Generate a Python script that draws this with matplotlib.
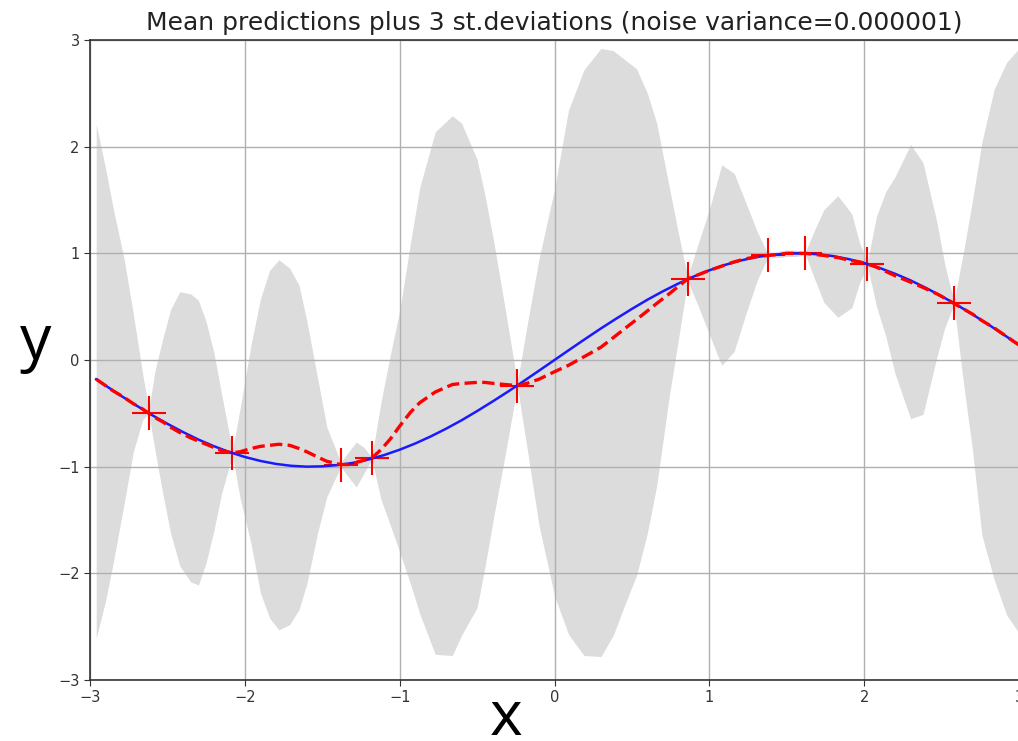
import matplotlib
matplotlib.use("Agg")
import matplotlib.pyplot as plt

# ---- data ----
train_x = [-2.62, -2.08, -1.38, -1.18, -0.24, 0.86, 1.38, 1.62, 2.02, 2.58]
train_y = [-0.50, -0.87, -0.98, -0.92, -0.24, 0.76, 0.98, 1.00, 0.90, 0.53]

true_x = [-2.96, -2.9, -2.8, -2.7, -2.6, -2.5, -2.4, -2.3, -2.2, -2.1, -2.0,
          -1.9, -1.8, -1.7, -1.6, -1.5, -1.4, -1.3, -1.2, -1.1, -1.0,
          -0.9, -0.8, -0.7, -0.6, -0.5, -0.4, -0.3, -0.2, -0.1, 0.0,
          0.1, 0.2, 0.3, 0.4, 0.5, 0.6, 0.7, 0.8, 0.9, 1.0,
          1.1, 1.2, 1.3, 1.4, 1.5, 1.6, 1.7, 1.8, 1.9, 2.0,
          2.1, 2.2, 2.3, 2.4, 2.5, 2.6, 2.7, 2.8, 2.9, 3.0, 3.06]
true_y = [-0.180, -0.239, -0.335, -0.427, -0.516, -0.598, -0.675, -0.746, -0.808,
          -0.863, -0.909, -0.946, -0.974, -0.992, -1.000, -0.997, -0.985, -0.964,
          -0.932, -0.891, -0.841, -0.783, -0.717, -0.644, -0.565, -0.479, -0.389,
          -0.296, -0.199, -0.100, 0.000, 0.100, 0.199, 0.296, 0.389, 0.479, 0.565,
          0.644, 0.717, 0.783, 0.841, 0.891, 0.932, 0.964, 0.985, 0.997, 1.000,
          0.992, 0.974, 0.946, 0.909, 0.863, 0.808, 0.746, 0.675, 0.598, 0.516,
          0.427, 0.335, 0.239, 0.141, 0.080]

test_x = [-2.96, -2.90, -2.85, -2.78, -2.72, -2.66, -2.62, -2.58, -2.53, -2.48,
          -2.42, -2.35, -2.30, -2.25, -2.20, -2.15, -2.08, -2.03, -1.96, -1.90,
          -1.84, -1.78, -1.71, -1.65, -1.60, -1.53, -1.47, -1.38, -1.33, -1.28,
          -1.23, -1.18, -1.12, -1.06, -1.00, -0.93, -0.87, -0.77, -0.66, -0.60,
          -0.50, -0.45, -0.39, -0.32, -0.24, -0.18, -0.10, 0.00, 0.09, 0.19,
          0.30, 0.38, 0.45, 0.53, 0.60, 0.66, 0.74, 0.80, 0.86, 0.93,
          1.00, 1.08, 1.16, 1.24, 1.31, 1.38, 1.45, 1.50, 1.56, 1.62,
          1.68, 1.74, 1.83, 1.92, 1.97, 2.02, 2.08, 2.14, 2.20, 2.30,
          2.38, 2.47, 2.52, 2.58, 2.64, 2.70, 2.76, 2.84, 2.92, 3.00, 3.06]

mean_pred = [-0.18, -0.24, -0.29, -0.35, -0.41, -0.46, -0.50, -0.54, -0.58, -0.63,
             -0.68, -0.73, -0.76, -0.79, -0.82, -0.85, -0.87, -0.86, -0.83, -0.81,
             -0.80, -0.79, -0.80, -0.83, -0.86, -0.91, -0.95, -0.98, -0.98, -0.96,
             -0.94, -0.92, -0.84, -0.74, -0.62, -0.49, -0.40, -0.30, -0.23, -0.22,
             -0.21, -0.21, -0.22, -0.23, -0.24, -0.22, -0.18, -0.11, -0.05, 0.03,
             0.12, 0.21, 0.29, 0.38, 0.46, 0.53, 0.62, 0.69, 0.76, 0.80,
             0.84, 0.88, 0.92, 0.95, 0.97, 0.98, 0.99, 1.00, 1.00, 1.00,
             0.99, 0.98, 0.96, 0.93, 0.92, 0.90, 0.87, 0.83, 0.79, 0.73,
             0.68, 0.62, 0.58, 0.53, 0.48, 0.43, 0.37, 0.30, 0.22, 0.14, 0.08]

band_upper = [2.21, 1.80, 1.42, 0.95, 0.43, -0.13, -0.46, -0.10, 0.20, 0.47,
              0.64, 0.62, 0.56, 0.36, 0.07, -0.32, -0.85, -0.45, 0.14, 0.57,
              0.84, 0.94, 0.86, 0.70, 0.37, -0.17, -0.63, -0.96, -0.86, -0.77,
              -0.82, -0.91, -0.39, 0.05, 0.46, 1.10, 1.62, 2.14, 2.29, 2.22,
              1.88, 1.55, 1.09, 0.49, -0.21, 0.30, 0.95, 1.60, 2.34, 2.72,
              2.92, 2.90, 2.82, 2.73, 2.50, 2.22, 1.63, 1.19, 0.78, 1.10,
              1.41, 1.83, 1.75, 1.46, 1.20, 0.99, 1.02, 1.03, 1.03, 1.01,
              1.22, 1.41, 1.54, 1.37, 1.10, 0.91, 1.35, 1.58, 1.72, 2.02,
              1.85, 1.29, 0.90, 0.55, 1.00, 1.50, 2.04, 2.54, 2.79, 2.92, 2.98]

band_lower = [-2.61, -2.26, -1.90, -1.35, -0.86, -0.56, -0.50, -0.85, -1.25, -1.62,
              -1.93, -2.08, -2.11, -1.90, -1.60, -1.25, -0.89, -1.30, -1.72, -2.18,
              -2.42, -2.53, -2.48, -2.34, -2.10, -1.62, -1.28, -1.00, -1.10, -1.19,
              -1.06, -0.93, -1.31, -1.55, -1.80, -2.10, -2.38, -2.76, -2.77, -2.58,
              -2.32, -1.95, -1.45, -0.90, -0.25, -0.80, -1.55, -2.21, -2.57, -2.77,
              -2.78, -2.58, -2.31, -2.02, -1.62, -1.18, -0.35, 0.19, 0.74, 0.50,
              0.24, -0.05, 0.08, 0.45, 0.75, 0.97, 0.96, 0.97, 0.97, 0.99,
              0.76, 0.54, 0.40, 0.49, 0.72, 0.89, 0.50, 0.22, -0.13, -0.55,
              -0.51, 0.03, 0.30, 0.52, -0.20, -0.85, -1.64, -2.06, -2.39, -2.56, -2.65]

x_ticks = [-3, -2, -1, 0, 1, 2, 3]
y_ticks = [-3, -2, -1, 0, 1, 2, 3]
title = "Mean predictions plus 3 st.deviations (noise variance=0.000001)"

# ---- figure ----
W, H = 1018, 741
fig = plt.figure(figsize=(W / 100, H / 100), dpi=100)
ax = fig.add_axes([90 / W, 61 / H, 929 / W, 640 / H])

ax.plot(train_x, train_y, 'r+', ms=25, mew=1.5)
ax.plot(true_x, true_y, color='#1a1aff', lw=1.8)
ax.fill_between(test_x, band_lower, band_upper, color='#dcdcdc', lw=0)
ax.plot(test_x, mean_pred, 'r--', lw=2.4)

ax.set_xlim(-3, 3)
ax.set_ylim(-3, 3)
ax.set_xticks(x_ticks)
ax.set_yticks(y_ticks)
ax.tick_params(labelsize=10.5, length=4, width=0.8, color='#333333',
               labelcolor='#333333')
ax.grid(True, color='#b0b0b0', lw=1.0)
for s in ax.spines.values():
    s.set_color('#333333')
    s.set_linewidth(1.2)
ax.set_title(title, fontsize=18, color='#222222', pad=7)

fig.text(36 / W, (H - 359) / H, 'y', fontsize=45, family='Open Sans',
         ha='center', va='baseline', color='black')
fig.text(506 / W, (H - 735) / H, 'x', fontsize=45, family='Open Sans',
         ha='center', va='baseline', color='black')

fig.savefig('out.png', dpi=100)
